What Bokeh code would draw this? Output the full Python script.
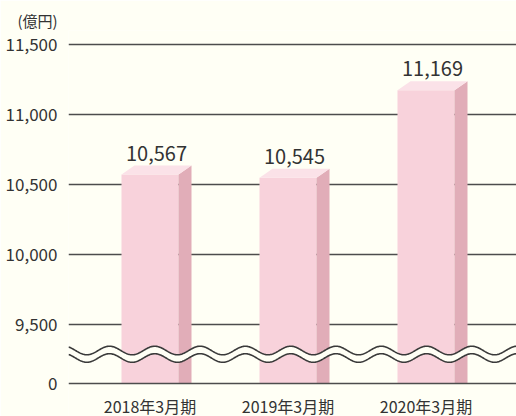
import numpy as np
from bokeh.plotting import figure
from bokeh.models import Range1d, FixedTicker, NumeralTickFormatter, Span, ColumnDataSource
from bokeh.core.properties import value
from bokeh.embed import file_html
from bokeh.resources import INLINE

# ---- data ----
categories = ["2018年3月期", "2019年3月期", "2020年3月期"]
amounts = [10567, 10545, 11169]
value_labels = ["10,567", "10,545", "11,169"]
y_ticks = [9500, 10000, 10500, 11000, 11500]
unit_label = "(億円)"

# ---- layout constants ----
BASE = 9075            # display position of the broken axis' "0"
PX_X = 1 / 138         # data units per pixel (x)
PX_Y = 500 / 70        # data units per pixel (y)
BAR_W = 57 * PX_X
DX = 13 * PX_X
DY = 9 * PX_Y
FONT = "Noto Sans CJK JP"
BG = "#FFFFF5"
TXT = "#333333"

x0 = (68 - 149.5) * PX_X
x1 = (516 - 149.5) * PX_X
y0 = BASE - 33 * PX_Y
y1 = y0 + 386 * PX_Y

p = figure(width=516, height=416, output_backend="svg", toolbar_location=None,
           x_range=Range1d(x0, x1), y_range=Range1d(y0, y1),
           min_border_left=68, min_border_right=0, min_border_top=30, min_border_bottom=0)
p.background_fill_color = BG
p.border_fill_color = BG
p.outline_line_color = None

# unit label as title
p.title.text = unit_label
p.title.align = "left"
p.title.offset = -51
p.title.standoff = 0
p.title.text_font = FONT
p.title.text_font_size = "15px"
p.title.text_font_style = "normal"
p.title.text_color = TXT

# y axis
p.yaxis.ticker = FixedTicker(ticks=[BASE] + y_ticks)
p.yaxis.formatter = NumeralTickFormatter(format="0,0")
p.yaxis.major_label_overrides = {BASE: "0"}
p.yaxis.axis_line_color = None
p.yaxis.major_tick_line_color = None
p.yaxis.minor_tick_line_color = None
p.yaxis.major_label_text_font = FONT
p.yaxis.major_label_text_color = TXT
p.yaxis.major_label_text_font_size = "17px"
p.yaxis.major_label_standoff = 5
p.xaxis.visible = False

p.xgrid.grid_line_color = None
p.ygrid.ticker = FixedTicker(ticks=y_ticks)
p.ygrid.grid_line_color = "#4d4d4d"
p.ygrid.grid_line_width = 1.5

# bars (front / side / top)
xs = list(range(len(categories)))
left = [x - BAR_W / 2 for x in xs]
right = [x + BAR_W / 2 for x in xs]
src = ColumnDataSource(dict(left=left, right=right, top=amounts, bottom=[BASE] * len(xs)))
p.quad(left="left", right="right", top="top", bottom="bottom", source=src,
       fill_color="#F8D2DB", line_color=None)

side_xs = [[r, r + DX, r + DX, r] for r in right]
side_ys = [[BASE, BASE, v + DY, v] for v in amounts]
p.patches(side_xs, side_ys, fill_color="#E1ADB8", line_color=None)

top_xs = [[l, r, r + DX, l + DX] for l, r in zip(left, right)]
top_ys = [[v, v, v + DY, v + DY] for v in amounts]
p.patches(top_xs, top_ys, fill_color="#FBE2E8", line_color=None)

# value labels
p.text(x=[x + DX / 2 for x in xs], y=[v + 14 * PX_Y for v in amounts], text=value_labels,
       text_font=value(FONT), text_font_size="20px", text_color=TXT,
       text_align="center", text_baseline="bottom")

# category labels under the broken axis
p.text(x=xs, y=[BASE - 22 * PX_Y] * len(xs), text=categories,
       text_font=value(FONT), text_font_size="16px", text_color=TXT,
       text_align="center", text_baseline="middle")

# axis-break wave
wx = np.linspace(x0, x1, 600)
phase = 2 * np.pi * (wx - (109 - 149.5) * PX_X) / (45.3 * PX_X)
amp = 4.3 * PX_Y
upper = BASE + (383 - 350) * PX_Y + amp * np.cos(phase)
lower = BASE + (383 - 357.5) * PX_Y + amp * np.cos(phase)
p.patch(np.concatenate([wx, wx[::-1]]), np.concatenate([upper, lower[::-1]]),
        fill_color=BG, line_color=None)
p.line(wx, upper, line_color="#3a3a3a", line_width=1.6)
p.line(wx, lower, line_color="#3a3a3a", line_width=1.6)

# zero line on top
p.add_layout(Span(location=BASE, dimension="width", line_color="#4d4d4d", line_width=1.5))

open("out.html", "w").write(file_html(p, INLINE))
